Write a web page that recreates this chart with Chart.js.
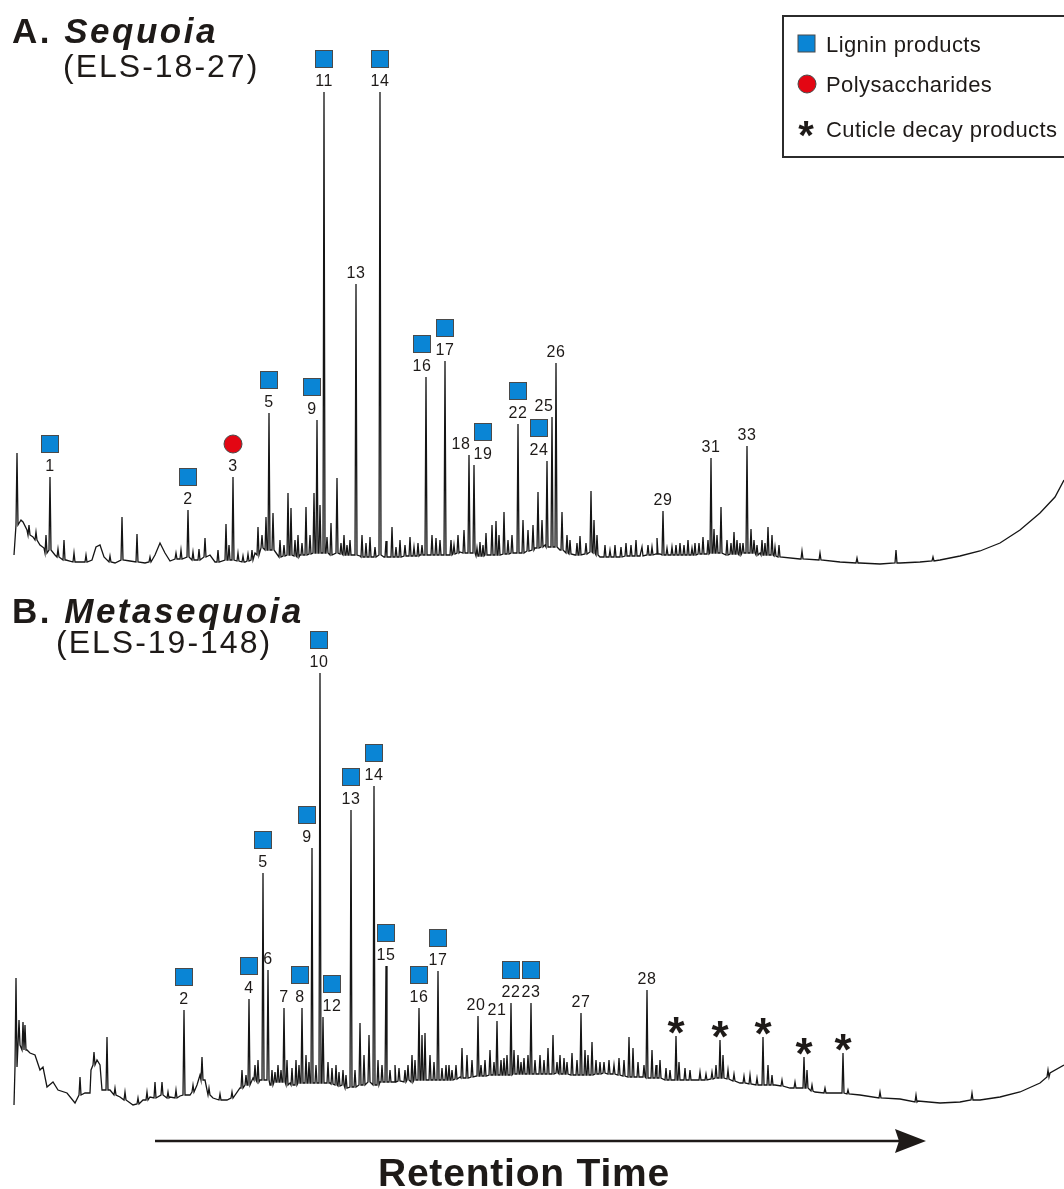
<!DOCTYPE html>
<html>
<head>
<meta charset="utf-8">
<script src="https://cdn.jsdelivr.net/npm/chart.js@4.4.1/dist/chart.umd.min.js"></script>
<style>
  html, body { margin: 0; padding: 0; background: #fff; }
  #wrap { position: relative; width: 1064px; height: 1189px; overflow: hidden; }
  canvas { position: absolute; left: 0; }
  #chartA { top: 0; }
  #chartB { top: 580px; }
</style>
</head>
<body>
<div id="wrap">
  <canvas id="chartA" width="1064" height="580"></canvas>
  <canvas id="chartB" width="1064" height="609"></canvas>
</div>
<script>
'use strict';

// ---- data: retention (arbitrary units along the arrow) vs. detector response ----

// A. Sequoia (ELS-18-27) -- baseline drift [retention, response]
const baselineA = [
  [14,10],[21,45],[23,43],[27,35],[33,28],[40,20],[44,17],[55,10],[66,5],[80,3],[92,5],
  [96,18],[100,20],[104,8],[115,2],[130,4],[145,2],[155,10],[160,22],[165,12],[170,4],
  [180,7],[195,5],[210,10],[215,3],[230,5],[245,3],[255,12],[262,17],[280,9],[300,10],
  [320,12],[340,11],[360,9],[384,8],[400,9],[420,10],[440,9],[460,13],[480,9],[500,11],
  [520,12],[535,17],[545,20],[560,15],[575,10],[590,13],[600,8],[620,8],[640,9],[660,11],
  [680,10],[700,11],[720,13],[740,12],[760,12],[780,8],[800,6],[820,5],[840,3],[860,2],
  [880,1],[900,2],[920,3],[940,5],[960,9],[980,14],[1000,22],[1020,35],[1040,52],
  [1055,68],[1064,85]
];
// unlabelled peaks [retention, base, apex]
const peaksA = [
  [17,40,112],[29,30,40],[36,25,33],[46,12,30],[58,8,16],[64,5,25],[74,3,12],[86,3,10],
  [110,3,9],[122,5,48],[137,3,31],[150,3,8],[176,6,12],[181,6,15],[193,5,13],[199,5,16],
  [205,8,27],[218,3,15],[226,5,41],[229,5,20],[238,4,12],[243,3,9],[248,4,11],[252,5,15],
  [258,10,38],[262,17,30],[266,15,48],[273,15,52],[280,8,25],[284,9,20],[288,10,72],
  [291,10,57],[295,9,25],[298,8,30],[302,10,22],[306,10,58],[310,11,30],[314,12,72],
  [320,12,60],[327,12,28],[331,10,42],[337,12,87],[341,11,22],[344,10,30],[347,10,20],
  [350,10,25],[362,8,30],[366,8,22],[370,8,28],[375,8,18],[386,8,24],[392,8,38],[396,8,18],
  [400,8,25],[405,9,20],[410,9,28],[414,9,18],[418,9,22],[422,10,20],[432,10,30],[436,10,27],
  [440,10,25],[451,10,25],[454,11,20],[458,12,30],[464,12,35],[477,9,17],[480,9,23],
  [483,9,20],[486,10,32],[492,10,40],[496,10,44],[499,10,30],[504,11,53],[508,11,25],
  [512,12,30],[523,12,45],[528,14,35],[533,15,40],[538,17,73],[542,18,45],[562,15,53],
  [567,12,30],[570,11,25],[577,10,22],[580,10,29],[586,11,22],[591,13,74],[594,12,45],
  [597,10,30],[605,8,20],[610,8,15],[615,8,20],[621,8,18],[626,9,22],[631,9,20],[636,9,25],
  [642,9,18],[648,10,20],[652,10,18],[657,11,27],[667,10,17],[672,10,18],[676,10,20],
  [680,10,22],[684,10,20],[688,10,25],[692,10,17],[695,10,22],[699,11,22],[703,11,28],
  [708,11,25],[714,12,36],[717,12,30],[721,12,58],[727,10,25],[731,11,22],[734,11,33],
  [737,11,25],[740,10,22],[743,12,22],[751,12,36],[754,12,25],[757,10,20],[762,10,25],
  [765,10,22],[768,10,38],[772,10,30],[775,9,18],[779,8,20],[802,6,14],[820,5,12],
  [857,2,7],[896,2,15],[933,4,8]
];
// identified peaks [retention, base, apex, compound no., class] L=lignin P=polysaccharide
const namedA = [
  [50,15,88,'1','L'],[188,8,55,'2','L'],[233,5,88,'3','P'],[269,15,152,'5','L'],
  [317,12,145,'9','L'],[324,12,473,'11','L'],[356,10,281,'13',''],[380,10,473,'14','L'],
  [426,10,188,'16','L'],[445,10,204,'17','L'],[469,12,110,'18',''],[474,12,100,'19','L'],
  [518,12,141,'22','L'],[547,18,104,'24','L'],[552,18,148,'25',''],[556,18,202,'26',''],
  [663,10,54,'29',''],[711,12,107,'31',''],[747,12,119,'33','']
];

// B. Metasequoia (ELS-19-148)
const baselineB = [
  [14,5],[15,43],[18,70],[20,80],[22,60],[27,60],[30,57],[35,55],[40,40],[43,43],[47,23],
  [53,28],[58,20],[67,17],[75,7],[85,17],[90,17],[91,40],[97,50],[100,45],[102,20],[110,20],
  [120,13],[133,5],[143,10],[150,13],[170,13],[180,14],[190,15],[197,25],[200,35],[205,30],
  [213,12],[227,10],[240,22],[253,32],[260,30],[270,25],[280,30],[290,27],[300,27],[310,27],
  [330,27],[340,23],[350,22],[360,25],[380,28],[400,30],[420,32],[440,30],[460,33],[480,35],
  [500,35],[520,37],[540,37],[560,37],[580,35],[600,37],[620,35],[640,33],[660,30],[680,30],
  [700,30],[720,32],[740,27],[760,25],[775,25],[790,22],[815,18],[830,17],[860,15],[880,12],
  [900,11],[918,9],[940,7],[960,8],[980,10],[1000,13],[1020,18],[1040,27],[1050,37],[1064,45]
];
const peaksB = [
  [16,43,132],[19,65,90],[23,60,88],[25,60,85],[80,15,33],[94,45,58],[107,20,73],[115,15,22],
  [125,10,18],[138,6,12],[147,10,18],[155,12,28],[162,15,28],[168,12,18],[176,12,20],
  [193,18,25],[202,30,53],[209,15,22],[220,10,16],[232,12,18],[242,22,40],[246,25,35],
  [255,30,45],[258,28,50],[272,25,40],[275,28,38],[278,28,45],[281,28,40],[287,25,50],
  [292,25,42],[296,25,50],[299,27,45],[306,27,55],[309,27,48],[316,27,45],[328,27,48],
  [332,26,42],[336,25,45],[339,24,38],[343,25,40],[346,22,35],[355,23,40],[360,25,87],
  [364,25,55],[369,28,75],[378,25,50],[382,28,45],[390,28,40],[395,28,45],[399,29,42],
  [405,28,40],[408,30,45],[412,28,55],[415,30,50],[422,30,75],[425,30,77],[430,30,55],
  [434,30,48],[442,30,42],[446,30,45],[449,30,45],[452,30,40],[456,31,45],[462,32,62],
  [467,32,55],[472,33,50],[481,34,45],[485,34,50],[490,35,60],[494,35,48],[501,35,50],
  [504,35,52],[507,35,55],[514,36,60],[518,36,55],[521,36,48],[524,36,52],[528,36,55],
  [535,36,50],[540,36,55],[544,36,50],[548,36,62],[553,36,75],[557,37,48],[560,36,55],
  [564,36,52],[567,36,48],[572,35,57],[577,35,50],[585,35,60],[588,35,55],[592,35,68],
  [596,36,50],[600,36,48],[604,37,48],[609,36,50],[614,36,45],[619,35,52],[624,34,50],
  [629,33,73],[633,33,62],[638,33,48],[644,33,45],[652,32,60],[656,32,45],[660,32,50],
  [666,30,42],[670,30,40],[679,30,48],[685,30,42],[690,30,40],[700,30,38],[706,30,36],
  [712,31,38],[716,32,45],[723,32,55],[728,31,40],[734,29,36],[744,27,34],[750,26,35],
  [757,25,32],[768,25,45],[772,25,35],[782,24,30],[795,22,28],[807,22,40],[812,19,25],
  [825,17,22],[848,16,20],[880,12,18],[916,8,15],[972,10,17],[1048,33,40]
];
// C = cuticle decay product (asterisk)
const namedB = [
  [184,15,100,'2','L'],[249,25,111,'4','L'],[263,30,237,'5','L'],[268,30,140,'6',''],
  [284,28,102,'7',''],[302,27,102,'8','L'],[312,27,262,'9','L'],[320,27,437,'10','L'],
  [323,27,93,'12','L'],[351,23,300,'13','L'],[374,25,324,'14','L'],[386,28,144,'15','L'],
  [419,30,102,'16','L'],[438,30,139,'17','L'],[478,34,94,'20',''],[497,35,89,'21',''],
  [511,35,107,'22','L'],[531,36,107,'23','L'],[581,35,97,'27',''],[647,32,120,'28',''],
  [676,30,74,'*','C'],[720,32,70,'*','C'],[763,25,73,'*','C'],[804,22,53,'*','C'],
  [843,17,57,'*','C']
];

const legendItems = ['Lignin products', 'Polysaccharides', 'Cuticle decay products'];
const legendClasses = ['L', 'P', 'C'];

// ---- styling ----
const FONT = '"Liberation Sans", Arial, Helvetica, sans-serif';
const BLUE = '#0a85d5';
const RED = '#e30613';
const INK = '#1e1a18';

// label nudges (px) where the number sits beside its peak
const nudgeA = { '9': -5, '16': -4, '18': -8, '19': 9, '24': -8, '25': -8 };
const nudgeB = { '8': -2, '9': -5, '10': -1, '12': 9, '20': -2 };


function buildTrace(baseline, peaks, named) {
  const all = peaks.concat(named);
  const pts = baseline
    .filter(b => !all.some(p => Math.abs(p[0] - b[0]) < 1.5))
    .map(b => ({ x: b[0], y: b[1] }));
  for (const p of all) {
    pts.push({ x: p[0] - 1, y: p[1] }, { x: p[0], y: p[2] }, { x: p[0] + 1, y: p[1] });
  }
  pts.sort((a, b) => a.x - b.x);
  return pts;
}

function square(ctx, x, y) {
  ctx.fillStyle = BLUE;
  ctx.fillRect(x - 8.5, y - 8.5, 17, 17);
  ctx.strokeStyle = '#4a4a4a';
  ctx.lineWidth = 1;
  ctx.strokeRect(x - 8.5, y - 8.5, 17, 17);
}

function circle(ctx, x, y) {
  ctx.beginPath();
  ctx.arc(x, y, 9, 0, Math.PI * 2);
  ctx.fillStyle = RED;
  ctx.fill();
  ctx.strokeStyle = '#4a4a4a';
  ctx.lineWidth = 1;
  ctx.stroke();
}

function asterisk(ctx, x, y, size) {
  ctx.font = `bold ${size}px ${FONT}`;
  ctx.letterSpacing = '0px';
  ctx.textAlign = 'center';
  ctx.textBaseline = 'alphabetic';
  const m = ctx.measureText('*');
  ctx.fillStyle = INK;
  ctx.fillText('*', x, y + (m.actualBoundingBoxAscent - m.actualBoundingBoxDescent) / 2);
}

function number(ctx, x, y, txt) {
  ctx.font = `16px ${FONT}`;
  ctx.letterSpacing = '0.5px';
  ctx.textAlign = 'center';
  ctx.textBaseline = 'alphabetic';
  ctx.fillStyle = INK;
  ctx.fillText(txt, x, y + 5.7);
}

function title(ctx, letter, name, sample, y0, y1, sx) {
  ctx.fillStyle = INK;
  ctx.textAlign = 'left';
  ctx.textBaseline = 'alphabetic';
  ctx.font = `bold 35px ${FONT}`;
  ctx.letterSpacing = '2.5px';
  ctx.fillText(letter, 12, y0);
  const w = ctx.measureText(letter).width;
  ctx.font = `italic bold 35px ${FONT}`;
  ctx.fillText(name, 12 + w, y0);
  ctx.font = `32px ${FONT}`;
  ctx.letterSpacing = '2px';
  ctx.fillText(sample, sx, y1);
}

function peakMarks(named, nudge, extra) {
  return {
    id: 'peakMarks',
    afterDraw(chart) {
      const ctx = chart.ctx;
      const xs = chart.scales.x;
      const ys = chart.scales.y;
      ctx.save();
      for (const [rt, , top, num, cls] of named) {
        const px = xs.getPixelForValue(rt) + (nudge[num] || 0);
        const py = ys.getPixelForValue(top);
        if (cls === 'C') {
          asterisk(ctx, px, py - 11, 44);
          continue;
        }
        const cy = py - 12;
        number(ctx, px, cy, num);
        if (cls === 'L') square(ctx, px, cy - 21);
        if (cls === 'P') circle(ctx, px, cy - 21);
      }
      extra(ctx);
      ctx.restore();
    }
  };
}

function drawLegend(ctx) {
  ctx.strokeStyle = '#2b2b2b';
  ctx.lineWidth = 2;
  ctx.strokeRect(783, 16, 300, 141);
  const ys = [43.5, 84, 128.5];
  for (let i = 0; i < legendItems.length; i++) {
    const cls = legendClasses[i];
    if (cls === 'L') square(ctx, 806.5, ys[i]);
    if (cls === 'P') circle(ctx, 807, ys[i]);
    if (cls === 'C') asterisk(ctx, 806, ys[i], 40);
    ctx.font = `22px ${FONT}`;
    ctx.letterSpacing = '0.4px';
    ctx.textAlign = 'left';
    ctx.textBaseline = 'alphabetic';
    ctx.fillStyle = INK;
    ctx.fillText(legendItems[i], 826, ys[i] + 8);
  }
}

function drawArrow(ctx) {
  ctx.strokeStyle = INK;
  ctx.fillStyle = INK;
  ctx.lineWidth = 2.5;
  ctx.beginPath();
  ctx.moveTo(155, 561);
  ctx.lineTo(905, 561);
  ctx.stroke();
  ctx.beginPath();
  ctx.moveTo(926, 561);
  ctx.lineTo(895, 549);
  ctx.lineTo(899, 561);
  ctx.lineTo(895, 573);
  ctx.closePath();
  ctx.fill();
  ctx.font = `bold 39px ${FONT}`;
  ctx.letterSpacing = '0.8px';
  ctx.textAlign = 'center';
  ctx.textBaseline = 'alphabetic';
  ctx.fillText('Retention Time', 524, 606);
}

function makeChart(id, trace, yMin, yMax, padBottom, plugin) {
  return new Chart(document.getElementById(id), {
    type: 'line',
    data: {
      datasets: [{
        data: trace,
        borderColor: '#151515',
        borderWidth: 1.3,
        pointRadius: 0,
        tension: 0,
        fill: false
      }]
    },
    options: {
      responsive: false,
      animation: false,
      events: [],
      layout: { padding: { left: 0, right: 0, top: 0, bottom: padBottom } },
      plugins: { legend: { display: false }, tooltip: { enabled: false } },
      scales: {
        x: { type: 'linear', min: 0, max: 1064, display: false },
        y: { min: yMin, max: yMax, display: false }
      }
    },
    plugins: [plugin]
  });
}

const chartA = makeChart('chartA', buildTrace(baselineA, peaksA, namedA), -15, 565, 0,
  peakMarks(namedA, nudgeA, ctx => {
    title(ctx, 'A. ', 'Sequoia', '(ELS-18-27)', 43, 77, 63);
    drawLegend(ctx);
  }));

const chartB = makeChart('chartB', buildTrace(baselineB, peaksB, namedB), 0, 530, 79,
  peakMarks(namedB, nudgeB, ctx => {
    title(ctx, 'B. ', 'Metasequoia', '(ELS-19-148)', 43, 73, 56);
    drawArrow(ctx);
  }));
</script>
</body>
</html>
